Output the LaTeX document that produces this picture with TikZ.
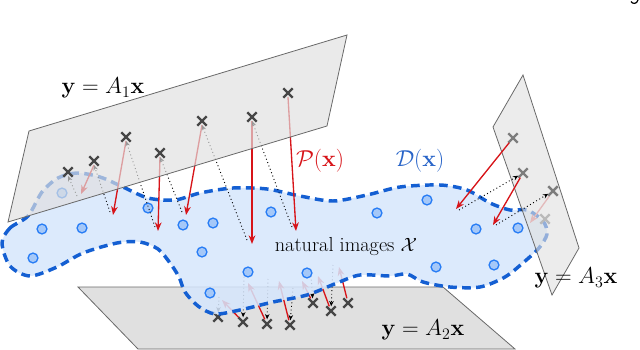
\documentclass[tikz,border=0pt]{standalone}
\usetikzlibrary{arrows.meta,shapes.misc}
\definecolor{planefill}{RGB}{224,224,224}
\definecolor{planeedge}{RGB}{105,105,105}
\definecolor{blobfill}{RGB}{214,230,252}
\definecolor{blobedge}{RGB}{20,95,210}
\definecolor{dotfill}{RGB}{165,200,248}
\definecolor{dotedge}{RGB}{40,125,245}
\definecolor{projred}{RGB}{215,20,25}
\definecolor{crossgray}{RGB}{70,70,70}
\definecolor{crosslight}{RGB}{125,125,125}
\definecolor{labelblue}{RGB}{40,100,200}
\tikzset{
  plane/.style={fill=planefill, draw=planeedge, line width=0.6pt},
  sample/.style={circle, draw=dotedge, fill=dotfill, line width=1pt, minimum size=7.4pt, inner sep=0pt},
  meas/.style={cross out, draw=crossgray, line width=1.8pt, minimum size=5.2pt, inner sep=0pt},
  measlight/.style={meas, draw=crosslight},
  proj/.style={draw=projred, line width=1pt, -{Stealth[length=6.5pt,width=5pt]}},
  projlight/.style={proj, draw=projred!55},
  fwd/.style={draw=black, dotted, line width=0.7pt, -{Stealth[length=4pt,width=3.4pt]}},
  lbl/.style={font=\fontsize{18}{21}\selectfont, inner sep=0pt},
}
\begin{document}
\begin{tikzpicture}[x=0.75pt,y=-0.75pt]
\useasboundingbox (0,0) rectangle (640,350);

% ---------- bottom plane A2 ----------
\draw[plane] (78,287) -- (443,287) -- (515,349) -- (138,349) -- cycle;

% A2 measurement crosses
\node[meas] (c1) at (218,317) {};
\node[meas] (c2) at (243,322) {};
\node[meas] (c3) at (267,324) {};
\node[meas] (c4) at (290,325) {};
\node[meas] (c5) at (313,303) {};
\node[meas] (c6) at (331,311) {};
\node[meas] (c7) at (348,303) {};
\coordinate (t2) at (222,300);
\coordinate (t3) at (248,283);
\coordinate (t4) at (279,281);
\coordinate (t5) at (302,281);
\coordinate (t6) at (318,276);
\coordinate (t7) at (339,267);
\coordinate (u1) at (219,297);
\coordinate (u2) at (244,277);
\coordinate (u3) at (268,279);
\coordinate (u4) at (293,288);
\coordinate (u5) at (311,276);
\coordinate (u6) at (333,265);
\draw[proj] (c2) -- (t2);
\draw[proj] (c3) -- (t3);
\draw[proj] (c4) -- (t4);
\draw[proj] (c5) -- (t5);
\draw[proj] (c6) -- (t6);
\draw[proj] (c7) -- (t7);
\draw[fwd] (u1) -- (c1);
\draw[fwd] (u2) -- (c2);
\draw[fwd] (u3) -- (c3);
\draw[fwd] (u4) -- (c4);
\draw[fwd] (u5) -- (c5);
\draw[fwd] (u6) -- (c6);

% ---------- manifold of natural images ----------
\def\blobpath{plot[smooth cycle] coordinates {
 (2,243) (10,228) (28,216) (42,192) (58,178) (77,173) (100,177) (123,187)
 (148,198) (175,200) (200,193) (233,188) (267,189) (300,196) (333,201)
 (367,195) (400,187) (440,185) (467,190) (490,203) (510,210) (527,210)
 (543,221) (547,234) (539,248) (524,262) (505,277) (480,287) (450,287)
 (423,282) (407,274) (390,276) (360,275) (337,283) (307,295) (273,302)
 (240,310) (215,314) (198,306) (185,292) (179,277) (170,263) (158,249)
 (140,242) (117,243) (83,253) (57,267) (30,276) (10,266)}}
\path[fill=blobfill, fill opacity=0.86] \blobpath;
\draw[blobedge, line width=2.6pt, dash pattern=on 6.5pt off 4pt] \blobpath;

% samples
\foreach \n/\p in {s1/{(62,193)}, s2/{(42,229)}, s3/{(82,228)}, s4/{(33,258)},
  s5/{(148,208)}, s6/{(183,225)}, s7/{(213,223)}, s8/{(271,212)}, s9/{(202,252)},
  s10/{(248,272)}, s11/{(307,273)}, s12/{(210,293)}, s13/{(427,200)},
  s14/{(377,213)}, s15/{(476,229)}, s16/{(518,228)}, s17/{(436,267)}, s18/{(494,265)}}
  \node[sample] (\n) at \p {};

% ---------- A1 arrows (under the plane) ----------
\coordinate (p1) at (81,194);
\coordinate (p2) at (113,215);
\coordinate (p3) at (158,231);
\coordinate (p4) at (186,215);
\coordinate (p5) at (252,244);
\coordinate (p6) at (296,231);
\coordinate (q1) at (77,196);
\coordinate (q2) at (110,212);
\coordinate (q3) at (155,227);
\coordinate (q4) at (182,212);
\coordinate (q5) at (247,240);
\coordinate (q6) at (292,227);
\coordinate (ah1) at (68,172);
\coordinate (ah2) at (94,161);
\coordinate (ah3) at (126,137);
\coordinate (ah4) at (160,153);
\coordinate (ah5) at (202,121);
\coordinate (ah6) at (252,117);
\coordinate (ah7) at (288,93);
\draw[proj] ([yshift=-3pt]ah2) -- (p1);
\draw[proj] ([yshift=-3pt]ah3) -- (p2);
\draw[proj] ([yshift=-3pt]ah4) -- (p3);
\draw[proj] ([yshift=-3pt]ah5) -- (p4);
\draw[proj] ([yshift=-3pt]ah6) -- (p5);
\draw[proj] ([yshift=-3pt]ah7) -- (p6);
\draw[fwd] (q1) -- ([yshift=-3pt]ah1);
\draw[fwd] (q2) -- ([yshift=-3pt]ah2);
\draw[fwd] (q3) -- ([yshift=-3pt]ah3);
\draw[fwd] (q4) -- ([yshift=-3pt]ah4);
\draw[fwd] (q5) -- ([yshift=-3pt]ah5);
\draw[fwd] (q6) -- ([yshift=-3pt]ah6);

% ---------- A3 parts under the plane ----------
\node[measlight] (b4) at (545,219) {};
\node[measlight] (b3) at (553,191) {};
\coordinate (r3) at (530,223);
\draw[projlight] (b3) -- (r3);

% ---------- planes A1 and A3 ----------
\draw[plane, fill opacity=0.68] (29,131) -- (347,35) -- (327,126) -- (8,222) -- cycle;
\draw[plane, fill opacity=0.62] (523,75) -- (579,248) -- (552,295) -- (493,127) -- cycle;

% A1 crosses on top
\node[meas] (a1) at (ah1) {};
\node[meas] (a2) at (ah2) {};
\node[meas] (a3) at (ah3) {};
\node[meas] (a4) at (ah4) {};
\node[meas] (a5) at (ah5) {};
\node[meas] (a6) at (ah6) {};
\node[meas] (a7) at (ah7) {};

% A3 arrows on top
\node[measlight] (b1) at (513,138) {};
\node[measlight] (b2) at (523,173) {};
\coordinate (r1) at (456,209);
\coordinate (r2) at (493,225);
\coordinate (v1) at (459,210);
\coordinate (v2) at (496,225);
\draw[proj] (b1) -- (r1);
\draw[proj] (b2) -- (r2);
\draw[fwd] (v1) -- (b2);
\draw[fwd] (v2) -- (b3);
\node[measlight] at (b3) {};

% ---------- labels ----------
\node[lbl] (l1) at (103,88) {$\mathbf{y}=A_1\mathbf{x}$};
\node[lbl] (l2) at (423,330) {$\mathbf{y}=A_2\mathbf{x}$};
\node[lbl] (l3) at (576,278) {$\mathbf{y}=A_3\mathbf{x}$};
\node[lbl, text=projred] (lp) at (320,161) {$\mathcal{P}(\mathbf{x})$};
\node[lbl, text=labelblue] (ld) at (420,161) {$\mathcal{D}(\mathbf{x})$};
\node[font=\fontsize{15.2}{18}\selectfont, inner sep=0pt] (ln) at (346,247) {natural images $\mathcal{X}$};
% cut-off page number fragment at the top edge
\draw[line width=0.9pt] (631,1.5) .. controls (632,4) and (637,4.5) .. (638,0);
\end{tikzpicture}
\end{document}
